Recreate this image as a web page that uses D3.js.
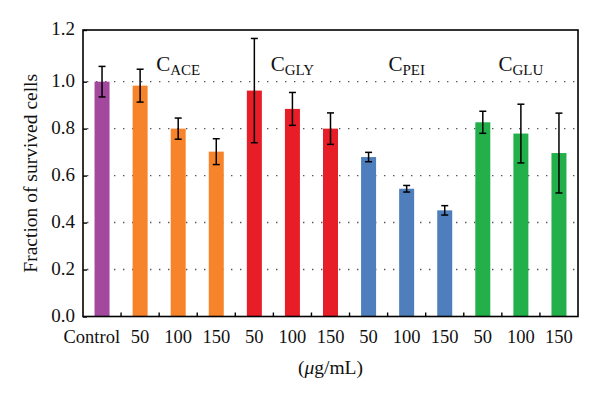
<!DOCTYPE html>
<html>
<head>
<meta charset="utf-8">
<script src="https://cdn.jsdelivr.net/npm/d3@7"></script>
<style>
  body { margin: 0; background: #fff; }
  svg text { font-family: "Liberation Serif", "DejaVu Serif", serif; fill: #111; }
</style>
</head>
<body>
<div id="chart"></div>
<script>
// bar categories (x tick labels) and the group each bar belongs to
const labels = ["Control", "50", "100", "150", "50", "100", "150", "50", "100", "150", "50", "100", "150"]
const groups = ["ctrl", "ACE", "ACE", "ACE", "GLY", "GLY", "GLY", "PEI", "PEI", "PEI", "GLU", "GLU", "GLU"]
const values = [1.0, 0.983, 0.80, 0.702, 0.962, 0.884, 0.80, 0.679, 0.544, 0.452, 0.827, 0.779, 0.696]
const errors = [0.065, 0.07, 0.045, 0.055, 0.222, 0.07, 0.067, 0.02, 0.014, 0.02, 0.047, 0.125, 0.17]
const groupNames = ["ACE", "GLY", "PEI", "GLU"]
const yTicks = [0, 0.2, 0.4, 0.6, 0.8, 1.0, 1.22]

const colors = { ctrl: "#a2499e", ACE: "#f7842b", GLY: "#e71d27", PEI: "#4e7fbc", GLU: "#23b04b" }

const width = 600, height = 395
const margin = { top: 30, right: 22, bottom: 78.5, left: 83 }

const svg = d3.select("#chart").append("svg")
    .attr("width", width)
    .attr("height", height)

const idx = labels.map((d, i) => i)

const xEdge = d3.scaleLinear()
    .domain([0, labels.length])
    .range([margin.left, width - margin.right])

const y = d3.scaleLinear()
    .domain([0, 1.22])
    .range([height - margin.bottom, margin.top])

// dotted grid
svg.append("g")
  .selectAll("line")
  .data(yTicks.filter(d => d > 0 && d < 1.2))
  .join("line")
    .attr("x1", margin.left + 4)
    .attr("x2", width - margin.right)
    .attr("y1", d => y(d))
    .attr("y2", d => y(d))
    .attr("stroke", "#555")
    .attr("stroke-width", 1.4)
    .attr("stroke-dasharray", "1.4,7.6")

// bars
svg.append("g")
  .selectAll("rect")
  .data(idx)
  .join("rect")
    .attr("x", i => xEdge(i + 0.5) - 7.5)
    .attr("y", i => y(values[i]))
    .attr("width", 15)
    .attr("height", i => y(0) - y(values[i]))
    .attr("fill", i => colors[groups[i]])

// error bars
const eb = svg.append("g")
    .attr("stroke", "#000")
    .attr("stroke-width", 1.5)
  .selectAll("g")
  .data(idx)
  .join("g")
eb.append("line")
    .attr("x1", i => xEdge(i + 0.5))
    .attr("x2", i => xEdge(i + 0.5))
    .attr("y1", i => y(values[i] + errors[i]))
    .attr("y2", i => y(values[i] - errors[i]))
eb.append("line")
    .attr("x1", i => xEdge(i + 0.5) - 3.5)
    .attr("x2", i => xEdge(i + 0.5) + 3.5)
    .attr("y1", i => y(values[i] + errors[i]))
    .attr("y2", i => y(values[i] + errors[i]))
eb.append("line")
    .attr("x1", i => xEdge(i + 0.5) - 3.5)
    .attr("x2", i => xEdge(i + 0.5) + 3.5)
    .attr("y1", i => y(values[i] - errors[i]))
    .attr("y2", i => y(values[i] - errors[i]))

// frame
svg.append("rect")
    .attr("x", margin.left)
    .attr("y", margin.top)
    .attr("width", width - margin.left - margin.right)
    .attr("height", height - margin.top - margin.bottom)
    .attr("fill", "none")
    .attr("stroke", "#000")
    .attr("stroke-width", 1.6)

// y axis
svg.append("g")
    .attr("transform", `translate(${margin.left},0)`)
    .call(d3.axisLeft(y).tickValues(yTicks).tickFormat(d3.format(".1f")).tickSizeInner(-4).tickSizeOuter(0).tickPadding(8))
    .call(g => g.select(".domain").remove())
    .call(g => g.selectAll(".tick line").attr("stroke-width", 1.4))
    .call(g => g.selectAll("text").attr("font-size", 19).attr("fill", "#111").attr("dy", "0.25em"))

// x axis: ticks between bars pointing inwards
svg.append("g")
  .selectAll("line")
  .data(d3.range(1, labels.length))
  .join("line")
    .attr("x1", d => xEdge(d))
    .attr("x2", d => xEdge(d))
    .attr("y1", y(0))
    .attr("y2", y(0) - 4)
    .attr("stroke", "#000")
    .attr("stroke-width", 1.4)

svg.append("g")
  .selectAll("text")
  .data(idx)
  .join("text")
    .attr("x", i => i === 0 ? xEdge(1) - 1 : xEdge(i + 0.5))
    .attr("y", 342.5)
    .attr("text-anchor", i => i === 0 ? "end" : "middle")
    .attr("font-size", 18.5)
    .text(i => labels[i])

// unit label
svg.append("text")
    .attr("x", (margin.left + width - margin.right) / 2)
    .attr("y", 374)
    .attr("text-anchor", "middle")
    .attr("font-size", 19.5)
    .call(t => t.append("tspan").text("("))
    .call(t => t.append("tspan").attr("font-style", "italic").text("μ"))
    .call(t => t.append("tspan").text("g/mL)"))

// y title
svg.append("text")
    .attr("transform", `translate(37,${(margin.top + height - margin.bottom) / 2}) rotate(-90)`)
    .attr("text-anchor", "middle")
    .attr("font-size", 19.5)
    .text("Fraction of survived cells")

// group labels above the middle bar of each group
svg.append("g")
  .selectAll("text")
  .data(groupNames)
  .join("text")
    .attr("x", (d, k) => xEdge(k * 3 + 2.5))
    .attr("y", 71)
    .attr("text-anchor", "middle")
    .attr("font-size", 21)
    .call(t => t.append("tspan").text("C"))
    .call(t => t.append("tspan").attr("font-size", 15).attr("dy", 4).text(d => d))
</script>
</body>
</html>
